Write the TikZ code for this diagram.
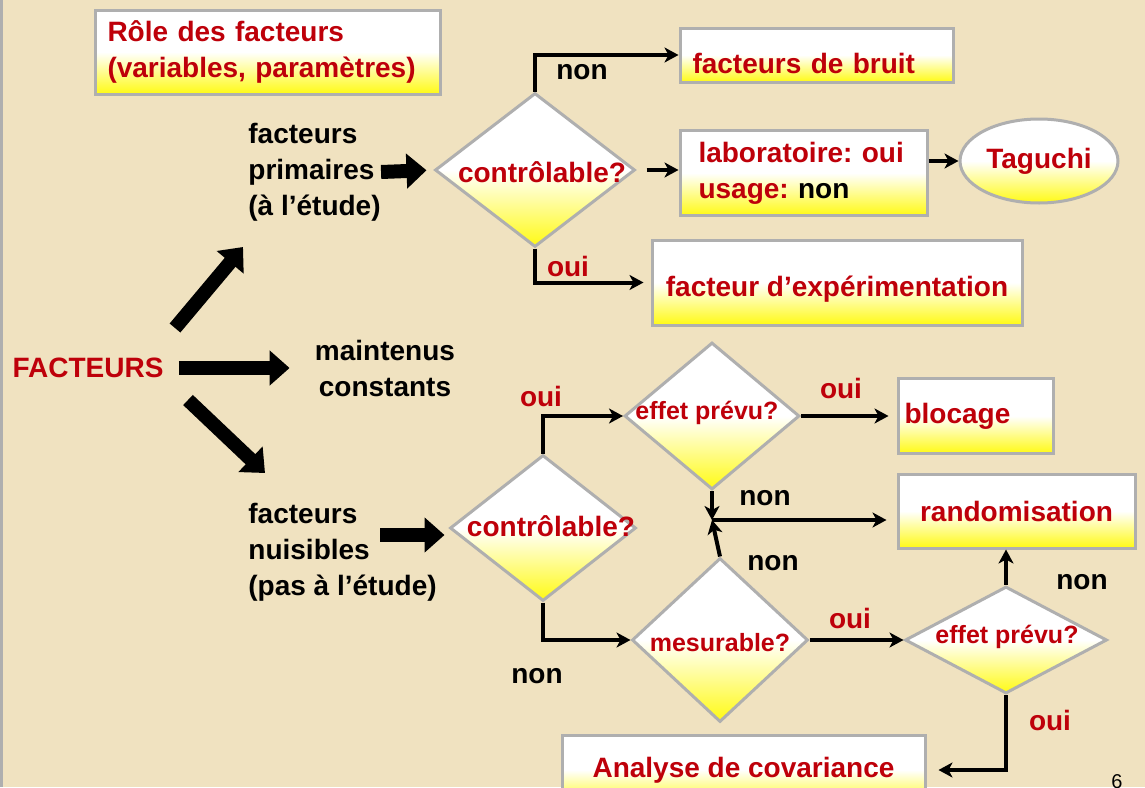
\documentclass[tikz,border=0pt]{standalone}
\usepackage{fontspec}
\setmainfont{Liberation Sans}
\usetikzlibrary{shapes.geometric,arrows.meta}
\definecolor{parch}{RGB}{240,226,192}
\definecolor{dred}{RGB}{190,0,10}
\definecolor{ylw}{RGB}{255,250,20}
\definecolor{edge}{RGB}{175,175,175}
\newcommand{\fsz}{\fontsize{14}{18}\selectfont\bfseries}
\newcommand{\sfsz}{\fontsize{12.5}{15}\selectfont\bfseries}
\frenchspacing

\begin{document}
\begin{tikzpicture}[x=.5pt,y=-.5pt,
  resbox/.style={draw=edge, line width=1.5pt, top color=white, bottom color=ylw, middle color=white,
                 font=\fsz, text=dred, inner sep=0pt},
  resell/.style={ellipse, resbox},
  quest/.style={diamond, draw=edge, line width=1.5pt, top color=white, bottom color=ylw, middle color=white,
                inner sep=0pt},
  rtxt/.style={font=\fsz, text=dred, inner sep=0pt},
  btxt/.style={font=\fsz, text=black, inner sep=0pt},
  bigarrow/.style={line width=7pt, -{Triangle[length=10pt,width=17pt]}},
  link/.style={line width=2pt, -{Stealth[length=7pt,width=7.5pt,inset=2pt]}}]

      %% background %%
      \clip (0,0) rectangle (1145,787);
      \fill[parch] (0,0) rectangle (1145,787);
      \draw[edge, line width=1.5pt] (1,0) -- (1,787);

      \node (titre) at (267.5,52) [resbox, minimum width=172.5pt, minimum height=42pt,
            text width=160pt, align=left] {Rôle des facteurs\\(variables, paramètres)};

      %% left part %%
      \node (fac) at (88,368) [rtxt] {FACTEURS};
      \node (prim) at (248,172) [btxt, anchor=west, align=left] {facteurs\\primaires\\(à l’étude)};
      \node (maint) at (385,368) [btxt, align=center] {maintenus\\constants};
      \node (nuis) at (248,552) [btxt, anchor=west, align=left] {facteurs\\nuisibles\\(pas à l’étude)};

      \coordinate (f1) at (175,328);  \coordinate (f2) at (243,247);
      \coordinate (f3) at (188,400);  \coordinate (f4) at (265,473);
      \coordinate (n1) at (380,535);
      \draw[bigarrow] (f1) -- (f2);
      \draw[bigarrow, shorten <=7.5pt, shorten >=12.5pt] (fac.east) -- (maint.west);
      \draw[bigarrow] (f3) -- (f4);

      %% primary factors %%
      \node (ctrl1) at (535,170) [quest, minimum width=100pt, minimum height=77pt] {};
      \node (qc1) at (542,172) [rtxt] {contrôlable?};
      \node (bruit) at (816.5,55) [resbox, minimum width=136.5pt, minimum height=27pt,
            text width=124pt, align=left, text height=18pt, text depth=0pt] {facteurs de bruit};
      \node (labo) at (803.5,173) [resbox, minimum width=123.5pt, minimum height=42.5pt,
            text width=105pt, align=left] {laboratoire: oui\\usage: \textcolor{black}{non}};
      \node (tagu) at (1039,161) [resell, minimum width=79pt, minimum height=42pt] {Taguchi};
      \node (exper) at (837,282.5) [resbox, minimum width=185pt, minimum height=42.5pt,
            text height=16.5pt, text depth=3pt] {facteur d’expérimentation};

      \draw[bigarrow, shorten >=3.5pt] (prim.east) -- (ctrl1.west);
      \draw[link] (ctrl1.north) |- (bruit.west);
      \draw[link, shorten <=5pt] (ctrl1.east) -- (ctrl1.east -| labo.west);
      \draw[link] (labo.east |- tagu.west) -- (tagu.west);
      \draw[link, shorten >=3.5pt] (ctrl1.south) |- (exper.west);
      \node (l1) at (582,72) [btxt] {non};
      \node (l2) at (568,266) [rtxt] {oui};

      %% nuisance factors %%
      \node (ctrl2) at (543,528) [quest, minimum width=93pt, minimum height=73pt] {};
      \node (qc2) at (551,526) [rtxt] {contrôlable?};
      \node (eff1) at (712,416) [quest, minimum width=87.5pt, minimum height=73.5pt] {};
      \node (qe1) at (707,413) [rtxt, font=\sfsz] {effet prévu?};
      \node (mes) at (720,640) [quest, minimum width=88pt, minimum height=82pt] {};
      \node (qm) at (720,643) [rtxt, font=\sfsz] {mesurable?};
      \node (eff2) at (1006,640) [quest, minimum width=101pt, minimum height=53.5pt] {};
      \node (qe2) at (1007,637) [rtxt, font=\sfsz] {effet prévu?};
      \node (bloc) at (975.5,416) [resbox, minimum width=77.5pt, minimum height=37.5pt,
            text width=71pt, align=left] {blocage};
      \node (rando) at (1016.5,511) [resbox, minimum width=118.5pt, minimum height=37pt] {randomisation};
      \node (ancov) at (743.5,770) [resbox, minimum width=181.5pt, minimum height=35pt] {Analyse de covariance};
      \coordinate (j) at (712,520);

      \draw[bigarrow, shorten >=2pt] (n1) -- (n1 -| ctrl2.west);
      \draw[link] (ctrl2.north) |- (eff1.west);
      \draw[link] (ctrl2.south) |- (mes.west);
      \draw[link, shorten >=4pt] (eff1.east) -- (bloc.west);
      \draw[link] (eff1.south) -- (j);
      \draw[link] (mes.north) -- (j);
      \draw[link, shorten >=5pt] (j) -- (j -| rando.west);
      \draw[link] (mes.east) -- (eff2.west);
      \draw[link] (eff2.north) -- (eff2.north |- rando.south);
      \draw[link, shorten >=6pt] (eff2.south) |- (ancov.east);

      \node (l3) at (541,396) [rtxt] {oui};
      \node (l4) at (537,676) [btxt] {non};
      \node (l5) at (841,388) [rtxt] {oui};
      \node (l6) at (765,498) [btxt] {non};
      \node (l7) at (773,563) [btxt] {non};
      \node (l8) at (850,618) [rtxt] {oui};
      \node (l9) at (1082,582) [btxt] {non};
      \node (l10) at (1050,720) [rtxt] {oui};

      \node (pg) at (1117,782) [font=\fontsize{10}{12}\selectfont] {6};

\end{tikzpicture}
\end{document}
